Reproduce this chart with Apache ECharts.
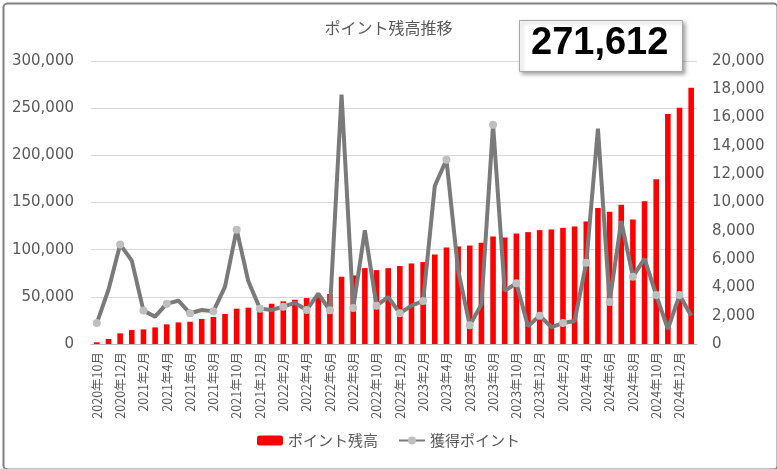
<!DOCTYPE html>
<html>
<head>
<meta charset="utf-8">
<script src="https://cdn.jsdelivr.net/npm/echarts@6/dist/echarts.min.js"></script>
<style>
html,body{margin:0;padding:0;background:#fff;}
#c{width:777px;height:469px;}
</style>
</head>
<body>
<div id="c"></div>
<script>
const categories = [
 '2020年10月','2020年11月','2020年12月',
 '2021年1月','2021年2月','2021年3月','2021年4月','2021年5月','2021年6月','2021年7月','2021年8月','2021年9月','2021年10月','2021年11月','2021年12月',
 '2022年1月','2022年2月','2022年3月','2022年4月','2022年5月','2022年6月','2022年7月','2022年8月','2022年9月','2022年10月','2022年11月','2022年12月',
 '2023年1月','2023年2月','2023年3月','2023年4月','2023年5月','2023年6月','2023年7月','2023年8月','2023年9月','2023年10月','2023年11月','2023年12月',
 '2024年1月','2024年2月','2024年3月','2024年4月','2024年5月','2024年6月','2024年7月','2024年8月','2024年9月','2024年10月','2024年11月','2024年12月',
 '2025年1月'
];
const balance = [
 1800, 5300, 11300,
 14800, 15500, 17600, 20800, 22900, 23600, 26500, 28600, 31800, 37400, 38500, 40600,
 42700, 45200, 46900, 48700, 50000, 53000, 71300, 72700, 80400, 78300, 80400, 82600,
 85400, 86800, 94900, 102300, 103400, 104400, 107300, 114000, 112900, 117100, 118600, 120700,
 121400, 123100, 124600, 129900, 144300, 140100, 147500, 132000, 151400, 174700, 243800, 250500,
 271612
];
const earned = [
 1480, 3840, 7040,
 5890, 2360, 1930, 2850, 3060, 2170, 2400, 2310, 4050, 8080, 4430, 2500,
 2400, 2640, 2900, 2400, 3560, 2380, 17620, 2540, 8030, 2710, 3320, 2170,
 2710, 3040, 11170, 13030, 5230, 1320, 2800, 15500, 3750, 4290, 1250, 2000,
 1200, 1480, 1630, 5750, 15220, 2970, 8690, 4760, 6030, 3460, 1060, 3460,
 2000
];
const leftTicks = [0, 50000, 100000, 150000, 200000, 250000, 300000];
const rightTicks = [0, 2000, 4000, 6000, 8000, 10000, 12000, 14000, 16000, 18000, 20000];
const seriesNames = ['ポイント残高', '獲得ポイント'];
const title = 'ポイント残高推移';
const highlight = balance[balance.length - 1];

const chart = echarts.init(document.getElementById('c'));
const fmt = v => v.toLocaleString('en-US');
const txt = '#595959';
chart.setOption({
  animation: false,
  backgroundColor: '#fff',
  title: {
    text: title, left: 'center', top: 15,
    textStyle: {fontFamily: 'Noto Sans CJK JP', fontSize: 16, fontWeight: 'normal', color: txt}
  },
  grid: {left: 91, right: 80, top: 61, bottom: 125},
  legend: {
    bottom: 16, left: 'center', itemGap: 20, itemWidth: 26, itemHeight: 10,
    textStyle: {fontFamily: 'Noto Sans CJK JP', fontSize: 15, color: txt},
    data: seriesNames
  },
  xAxis: {
    type: 'category', data: categories, boundaryGap: true,
    axisLine: {lineStyle: {color: '#bfbfbf'}},
    axisTick: {interval: 1, lineStyle: {color: '#bfbfbf'}, length: 5},
    axisLabel: {interval: 1, rotate: 90, fontFamily: 'Noto Sans CJK JP', fontSize: 12.5, color: txt, margin: 8}
  },
  yAxis: [
    {type: 'value', min: 0, max: 300000, interval: 50000,
     axisLine: {show: false}, axisTick: {show: false},
     splitLine: {lineStyle: {color: '#d9d9d9', width: 1}},
     axisLabel: {formatter: v => leftTicks.includes(v) ? fmt(v) : '', fontFamily: 'DejaVu Sans', fontSize: 15, color: txt, margin: 17}},
    {type: 'value', min: 0, max: 20000, interval: 2000,
     axisLine: {show: false}, axisTick: {show: false}, splitLine: {show: false},
     axisLabel: {formatter: v => rightTicks.includes(v) ? fmt(v) : '', fontFamily: 'DejaVu Sans', fontSize: 15, color: txt, margin: 15}}
  ],
  series: [
    {name: seriesNames[0], type: 'bar', data: balance, yAxisIndex: 0, barWidth: '48%',
     itemStyle: {color: '#ff0000'}},
    {name: seriesNames[1], type: 'line', data: earned, yAxisIndex: 1, z: 5,
     symbol: 'circle', symbolSize: 8,
     lineStyle: {color: '#7a7a7a', width: 4},
     itemStyle: {color: '#bfbfbf', borderWidth: 0}}
  ],
  graphic: [
    {type: 'rect', left: 1, top: 1, shape: {width: 774, height: 466, r: 4},
     style: {fill: 'none', stroke: '#808080', lineWidth: 2}, silent: true},
    {type: 'rect', left: 519, top: 20, shape: {width: 163, height: 51},
     style: {fill: '#fff', stroke: '#a6a6a6', lineWidth: 1, shadowBlur: 4, shadowOffsetX: 2, shadowOffsetY: 2, shadowColor: 'rgba(0,0,0,0.35)'}, z: 10},
    {type: 'text', left: 531, top: 25, z: 11,
     style: {text: fmt(highlight), fontFamily: 'Liberation Sans', fontWeight: 'bold', fontSize: 38, fill: '#000'}}
  ]
});
</script>
</body>
</html>
